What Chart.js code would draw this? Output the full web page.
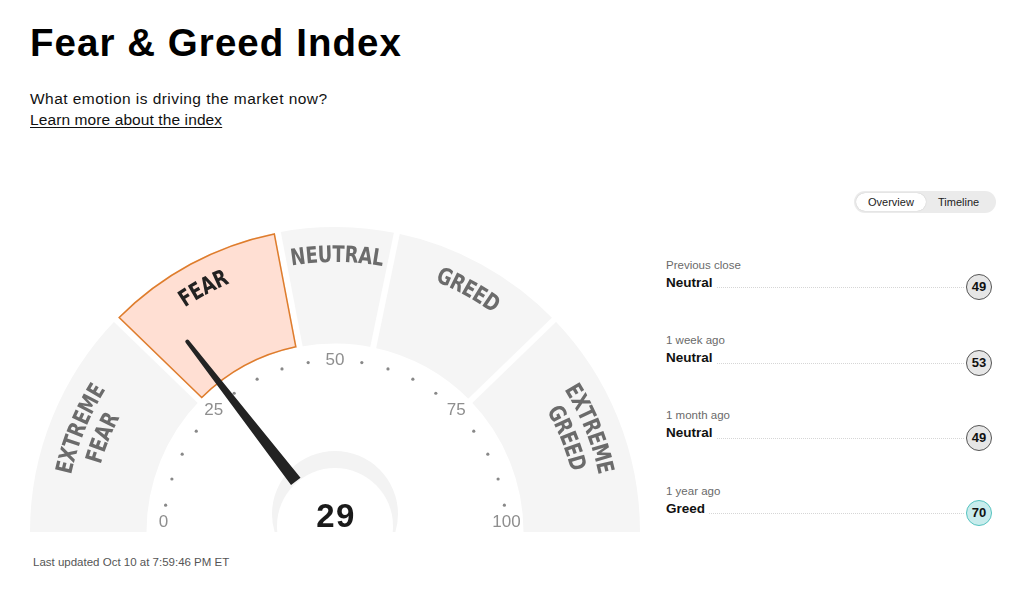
<!DOCTYPE html>
<html>
<head>
<meta charset="utf-8">
<script src="https://cdn.jsdelivr.net/npm/chart.js@4.4.1/dist/chart.umd.min.js"></script>
<style>
  html, body { margin: 0; padding: 0; background: #fff; }
  body { width: 1024px; height: 597px; position: relative; overflow: hidden;
         font-family: 'Liberation Sans', Arial, sans-serif; color: #000; }
  .abs { position: absolute; line-height: 1; white-space: nowrap; }
  .title { left: 30px; top: 24px; font-size: 38.5px; font-weight: bold; letter-spacing: 1.05px; }
  .sub { left: 30px; top: 91px; font-size: 15.5px; color: #111; letter-spacing: 0.45px; }
  .link { left: 30px; top: 112px; font-size: 15.5px; color: #111; letter-spacing: 0.1px;
          text-decoration: underline; text-underline-offset: 2px; }
  .updated { left: 33px; top: 557px; font-size: 11.5px; color: #555; }
  #gaugeBox { position: absolute; }
  .toggle { position: absolute; left: 854px; top: 191px; width: 142px; height: 22px; border-radius: 11px; background: #ebebeb; }
  .toggle .on { position: absolute; left: 2px; top: 2px; width: 70px; height: 18px; border-radius: 9px; background: #fff;
                box-shadow: 0 0 1px rgba(0,0,0,0.25); }
  .toggle span { position: absolute; top: 6px; font-size: 11px; color: #222; line-height: 1; }
  .row { position: absolute; left: 666px; width: 326px; height: 26px; }
  .row .when { position: absolute; left: 0; top: -14.5px; font-size: 11.5px; color: #6a6a6a; line-height: 1; }
  .row .rate { position: absolute; left: 0; top: 1.5px; font-size: 13.5px; font-weight: bold; color: #111; line-height: 1; }
  .row .dots { position: absolute; top: 13px; height: 0; border-top: 1px dotted #d6d6d6; right: 28px; }
  .row .score { position: absolute; right: 0; top: 0; width: 26px; height: 26px; box-sizing: border-box; border-radius: 50%;
                border: 1.3px solid #555; background: #e6e6e6; font-size: 13px; font-weight: bold; color: #111;
                text-align: center; line-height: 23.5px; }
</style>
</head>
<body>
<div class="abs title">Fear &amp; Greed Index</div>
<div class="abs sub">What emotion is driving the market now?</div>
<div class="abs link">Learn more about the index</div>
<div id="gaugeBox"><canvas id="gauge"></canvas></div>
<div class="toggle"><div class="on"></div><span style="left:14px">Overview</span><span style="left:84px">Timeline</span></div>
<div id="history"></div>
<div class="abs updated">Last updated Oct 10 at 7:59:46 PM ET</div>

<script>
// gauge zones (widths on the 0-100 scale, as drawn)
const zoneLabels = ['EXTREME FEAR', 'FEAR', 'NEUTRAL', 'GREED', 'EXTREME GREED'];
const zoneWidths = [24.5, 19.5, 12.5, 19, 24.5];
const scaleTicks = [0, 25, 50, 75, 100];
const currentScore = 29;

// right hand history list
const historyPeriods = ['Previous close', '1 week ago', '1 month ago', '1 year ago'];
const historyRatings = ['Neutral', 'Neutral', 'Neutral', 'Greed'];
const historyScores = [49, 53, 49, 70];

// layout
const CX = 335, CY = 532;
const R_OUT = 305, R_IN = 188.5;
const GAP = 6;
const MINOR_STEP = 5;
const LABEL_SQUEEZE = 0.78;

function zoneOf(v) {
  let acc = 0;
  for (let i = 0; i < zoneWidths.length; i++) {
    acc += zoneWidths[i];
    if (v < acc) return i;
  }
  return zoneWidths.length - 1;
}
const activeZone = zoneOf(currentScore);

// canvas placed so the doughnut centre lands on CX, CY
const W = 2 * R_OUT + 20, H = R_OUT + 20;
const box = document.getElementById('gaugeBox');
const cv = document.getElementById('gauge');
cv.width = W; cv.height = H;
box.style.left = (CX - W / 2) + 'px';
box.style.top = (CY - H / 2 - R_OUT / 2) + 'px';
box.style.width = W + 'px'; box.style.height = H + 'px';

// writes a word letter by letter along a circle, centred on angle mid
function arcText(ctx, text, cx, cy, r, mid, sx) {
  const chars = [...text];
  const widths = chars.map(ch => ctx.measureText(ch).width * sx);
  const total = widths.reduce((s, w) => s + w, 0);
  let a = mid - total / 2 / r;
  chars.forEach((ch, k) => {
    const ac = a + widths[k] / 2 / r;
    ctx.save();
    ctx.translate(cx + r * Math.cos(ac), cy + r * Math.sin(ac));
    ctx.rotate(ac + Math.PI / 2);
    ctx.scale(sx, 1);
    ctx.fillText(ch, 0, 0);
    ctx.restore();
    a += widths[k] / r;
  });
}

const gaugeDecor = {
  id: 'gaugeDecor',
  afterDatasetsDraw(chart) {
    const ctx = chart.ctx;
    const arcs = chart.getDatasetMeta(0).data;
    const cx = arcs[0].x, cy = arcs[0].y;
    const ro = arcs[0].outerRadius, ri = arcs[0].innerRadius;
    const a0 = arcs[0].startAngle, a1 = arcs[arcs.length - 1].endAngle;
    const ang = v => a0 + (a1 - a0) * v / 100;

    ctx.save();
    // white separators between zones
    ctx.strokeStyle = '#fff';
    ctx.lineWidth = GAP;
    for (let i = 0; i < arcs.length - 1; i++) {
      const a = arcs[i].endAngle;
      ctx.beginPath();
      ctx.moveTo(cx + (ri - 2) * Math.cos(a), cy + (ri - 2) * Math.sin(a));
      ctx.lineTo(cx + (ro + 2) * Math.cos(a), cy + (ro + 2) * Math.sin(a));
      ctx.stroke();
    }
    // outline of the active zone
    const act = arcs[activeZone];
    const d = GAP / 2 + 0.8;
    const r1 = ro - 0.8, r0 = ri + 0.8;
    ctx.strokeStyle = '#de7d2c';
    ctx.lineWidth = 1.5;
    ctx.beginPath();
    ctx.arc(cx, cy, r1, act.startAngle + Math.asin(d / r1), act.endAngle - Math.asin(d / r1));
    ctx.arc(cx, cy, r0, act.endAngle - Math.asin(d / r0), act.startAngle + Math.asin(d / r0), true);
    ctx.closePath();
    ctx.stroke();

    // zone names along the arc
    ctx.textAlign = 'center';
    ctx.textBaseline = 'middle';
    ctx.font = "bold 23px 'DejaVu Sans', sans-serif";
    arcs.forEach((arc, i) => {
      const mid = (arc.startAngle + arc.endAngle) / 2;
      ctx.fillStyle = i === activeZone ? '#222' : '#6b6b6b';
      zoneLabels[i].split(' ').forEach((word, j) => {
        arcText(ctx, word, cx, cy, ro - 29 - j * 26, mid, LABEL_SQUEEZE);
      });
    });

    // scale dots and numbers
    const rt = 171.5;
    ctx.font = "17px 'Liberation Sans', Arial, sans-serif";
    for (let v = 0; v <= 100; v += MINOR_STEP) {
      const a = ang(v);
      const x = cx + rt * Math.cos(a), y = cy + rt * Math.sin(a);
      if (scaleTicks.includes(v)) {
        ctx.fillStyle = '#8e8e8e';
        ctx.fillText(String(v), x, Math.min(y, cy - 10));
      } else {
        ctx.fillStyle = '#888';
        ctx.beginPath();
        ctx.arc(x, y, 1.6, 0, Math.PI * 2);
        ctx.fill();
      }
    }

    // hub
    ctx.save();
    ctx.beginPath();
    ctx.rect(cx - 80, cy - 100, 160, 100);
    ctx.clip();
    ctx.fillStyle = '#f3f3f3';
    ctx.beginPath(); ctx.arc(cx, cy - 18, 63, 0, Math.PI * 2); ctx.fill();
    ctx.fillStyle = '#fff';
    ctx.beginPath(); ctx.arc(cx, cy - 6, 58, 0, Math.PI * 2); ctx.fill();
    ctx.restore();

    // needle
    const a = ang(currentScore);
    const nx = -Math.sin(a), ny = Math.cos(a);
    const ux = Math.cos(a), uy = Math.sin(a);
    const rb = 64, rtip = 241, wb = 6, wt = 2;
    ctx.fillStyle = '#232323';
    ctx.beginPath();
    ctx.moveTo(cx + ux * rb + nx * wb, cy + uy * rb + ny * wb);
    ctx.lineTo(cx + ux * rtip + nx * wt, cy + uy * rtip + ny * wt);
    ctx.arc(cx + ux * rtip, cy + uy * rtip, wt, a + Math.PI / 2, a - Math.PI / 2, true);
    ctx.lineTo(cx + ux * rb - nx * wb, cy + uy * rb - ny * wb);
    ctx.closePath();
    ctx.fill();

    // score
    ctx.fillStyle = '#1a1a1a';
    ctx.font = "bold 33px 'Liberation Sans', Arial, sans-serif";
    try { ctx.letterSpacing = '1.5px'; } catch (e) {}
    ctx.textBaseline = 'alphabetic';
    ctx.fillText(String(currentScore), cx + 1, cy - 5);
    ctx.restore();
  }
};

new Chart(cv, {
  type: 'doughnut',
  data: {
    labels: zoneLabels,
    datasets: [{
      data: zoneWidths,
      backgroundColor: zoneWidths.map((_, i) => i === activeZone ? '#ffdfd3' : '#f5f5f5'),
      borderWidth: 0
    }]
  },
  options: {
    responsive: false,
    animation: false,
    events: [],
    rotation: -90,
    circumference: 180,
    radius: R_OUT,
    cutout: (R_IN / R_OUT * 100) + '%',
    layout: { padding: 0 },
    plugins: { legend: { display: false }, tooltip: { enabled: false } }
  },
  plugins: [gaugeDecor]
});

// history list
const hist = document.getElementById('history');
const rowTops = [274, 349.5, 424.5, 500];
historyPeriods.forEach((p, i) => {
  const row = document.createElement('div');
  row.className = 'row';
  row.style.top = rowTops[i] + 'px';
  const greedy = zoneOf(historyScores[i]) >= 3;
  row.innerHTML = `
    <div class="when">${p}</div>
    <div class="rate">${historyRatings[i]}</div>
    <div class="dots"></div>
    <div class="score" style="${greedy ? 'background:#c8ecec;border-color:#55c3c0;' : ''}">${historyScores[i]}</div>
  `;
  hist.appendChild(row);
  const rate = row.querySelector('.rate');
  row.querySelector('.dots').style.left = (rate.offsetWidth + 4) + 'px';
});
</script>
</body>
</html>
